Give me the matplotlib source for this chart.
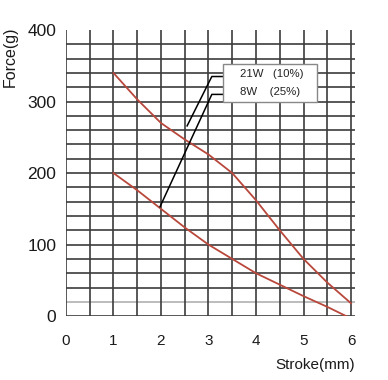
import numpy as np
import matplotlib
matplotlib.use('Agg')
import matplotlib.pyplot as plt

plt.rcParams['font.family'] = ['Liberation Sans', 'DejaVu Sans']

# Stroke (mm) and force (g)
stroke_21w = [1.0, 1.5, 2.0, 2.5, 3.0, 3.5, 4.0, 4.5, 5.0, 5.5, 6.0]
force_21w = [340, 303, 270, 247, 226, 200, 162, 120, 80, 47, 18]
stroke_8w = [1.0, 1.5, 2.0, 2.5, 3.0, 3.5, 4.0, 4.5, 5.0, 5.5, 5.9]
force_8w = [200, 176, 150, 124, 100, 80, 60, 44, 28, 13, 0]
series_labels = ['21W   (10%)', '8W    (25%)']

x_ticks = [0, 1, 2, 3, 4, 5, 6]
y_ticks = [0, 100, 200, 300, 400]

# leader lines: curve point -> elbow -> box edge
leader_21w = ([2.55, 3.07, 3.31], [266, 335, 335])
leader_8w = ([1.98, 3.07, 3.31], [153, 310, 310])

fig = plt.figure(figsize=(3.88, 3.80), dpi=100)
ax = fig.add_axes([0.170, 0.168, 0.745, 0.753])
ax.set_xlim(0, 6.084)
ax.set_ylim(0, 400)

grid_col = '#3c3c3c'
for yv in np.arange(0, 400, 20):
    col = '#b0b0b0' if yv == 20 else grid_col
    ax.axhline(yv, color=col, lw=1.2, zorder=1)
for xv in np.arange(0, 6.01, 0.5):
    ax.axvline(xv, color=grid_col, lw=1.2, zorder=1)

red = '#b9483c'
ax.plot(stroke_21w, force_21w, color=red, lw=1.3, zorder=3)
ax.plot(stroke_8w, force_8w, color=red, lw=1.3, zorder=3)

ax.plot(*leader_21w, color='black', lw=1.1, zorder=4)
ax.plot(*leader_8w, color='black', lw=1.1, zorder=4)

# legend box
ax.add_patch(plt.Rectangle((3.31, 299), 1.98, 53, facecolor='white',
                           edgecolor='#888888', lw=1.0, zorder=5))
ax.text(3.66, 338, series_labels[0], fontsize=8.2, va='center', color='#222222', zorder=6)
ax.text(3.66, 313, series_labels[1], fontsize=8.2, va='center', color='#222222', zorder=6)

for s in ax.spines.values():
    s.set_visible(False)
ax.set_xticks(x_ticks)
ax.set_yticks(y_ticks)
ax.tick_params(axis='x', length=0, pad=13, labelsize=11, labelcolor='#1a1a1a')
ax.tick_params(axis='y', length=0, pad=7, labelsize=12.5, labelcolor='#1a1a1a')

fig.text(0.027, 0.85, 'Force(g)', rotation=90, fontsize=11.5, ha='center', va='center',
         color='#1a1a1a')
fig.text(0.915, 0.04, 'Stroke(mm)', fontsize=11, ha='right', va='center', color='#1a1a1a')

fig.savefig('out.png', dpi=100)
